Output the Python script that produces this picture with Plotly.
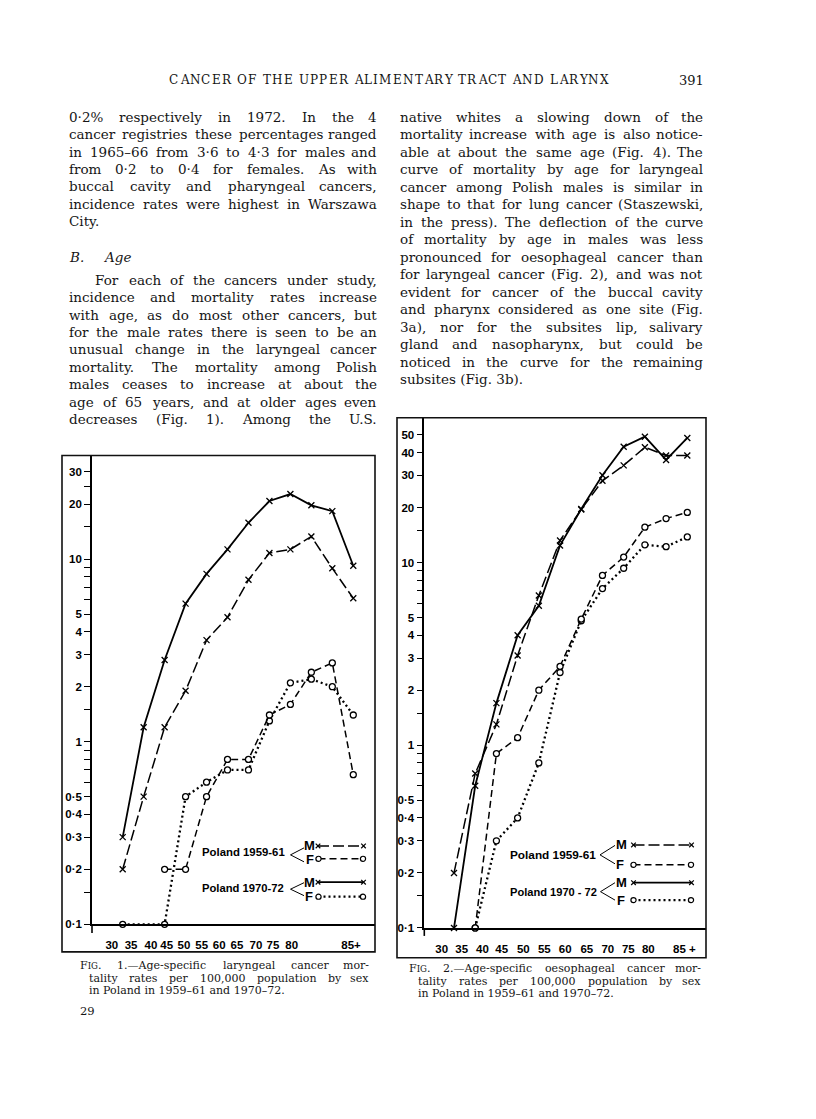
import glob
import struct
import plotly.graph_objects as go

# page geometry: the page is 816x1119; the browser body adds an 8px margin
W, H = 816, 1119
OFF = 8
FW, FH = W - 2 * OFF, H - 2 * OFF
SERIF = "DejaVu Serif"
SANS = "Liberation Sans"
INK = "#151515"

# ------------------------------------------------------------------ data
age_groups = ["30-34", "35-39", "40-44", "45-49", "50-54", "55-59",
              "60-64", "65-69", "70-74", "75-79", "80-84", "85+"]
age_start = [30, 35, 40, 45, 50, 55, 60, 65, 70, 75, 80, 85]

# Fig. 1 - laryngeal cancer mortality per 100,000
lar_m_1959 = [0.2, 0.5, 1.2, 1.9, 3.6, 4.8, 7.7, 10.8, 11.3, 13.3, 8.9, 6.1]
lar_f_1959 = [None, None, 0.2, 0.2, 0.5, 0.8, 0.8, 1.4, 1.6, 2.4, 2.7, 0.66]
lar_m_1970 = [0.3, 1.2, 2.8, 5.7, 8.3, 11.3, 15.8, 20.8, 22.7, 19.7, 18.3, 9.2]
lar_f_1970 = [0.1, None, 0.1, 0.5, 0.6, 0.7, 0.7, 1.3, 2.1, 2.2, 2.0, 1.4]

# Fig. 2 - oesophageal cancer mortality per 100,000
oes_m_1959 = [0.2, 0.7, 1.3, 3.1, 6.6, 13.2, 19.5, 28, 34, 42.7, 38.5, 38.5]
oes_m_1970 = [0.1, 0.6, 1.7, 4.0, 5.8, 12.4, 19.6, 30, 43, 48.8, 36.4, 48]
oes_f_1959 = [None, 0.1, 0.9, 1.1, 2.0, 2.7, 4.9, 8.5, 10.7, 15.6, 17.4, 18.8]
oes_f_1970 = [None, 0.1, 0.3, 0.4, 0.8, 2.5, 4.8, 7.2, 9.3, 12.5, 12.2, 13.8]

x_labels_1 = ["30", "35", "40", "45", "50", "55", "60", "65", "70", "75", "80", "85+"]
x_labels_2 = ["30", "35", "40", "45", "50", "55", "60", "65", "70", "75", "80", "85 +"]

y_vals_1 = [0.1, 0.15, 0.2, 0.3, 0.4, 0.5, 0.6, 0.7, 0.8, 0.9, 1, 1.5, 2, 3, 4, 5,
            6, 7, 8, 9, 10, 15, 20, 25, 30]
y_text_1 = ["0·1", "", "0·2", "0·3", "0·4", "0·5", "", "", "", "", "1", "", "2", "3",
            "4", "5", "", "", "", "", "10", "", "20", "", "30"]
y_vals_2 = [0.1, 0.15, 0.2, 0.3, 0.4, 0.5, 0.6, 0.7, 0.8, 0.9, 1, 1.5, 2, 3, 4, 5,
            6, 7, 8, 9, 10, 15, 20, 30, 40, 50]
y_text_2 = ["0·1", "", "0·2", "0·3", "0·4", "0·5", "", "", "", "", "1", "", "2", "3",
            "4", "5", "", "", "", "", "10", "", "20", "30", "40", "50"]

# label positions along the age axis (the printed labels are not evenly placed)
x_tick_pos_1 = [29.9, 34.5, 39.25, 43.0, 47.1, 51.35, 55.5, 59.75, 64.3, 68.35, 72.8, 86.95]
x_tick_pos_2 = [29.6, 34.3, 39.2, 43.75, 48.85, 53.8, 58.7, 63.8, 68.75, 73.6, 78.3, 86.8]

legend_titles_1 = ["Poland 1959-61", "Poland 1970-72"]
legend_titles_2 = ["Poland 1959-61", "Poland 1970 - 72"]

# ------------------------------------------------------------------ text
HEADER = "CANCER OF THE UPPER ALIMENTARY TRACT AND LARYNX"
PAGE_NO = "391"
LEFT_A = [
    "0·2% respectively in 1972.  In the 4",
    "cancer registries these percentages ranged",
    "in 1965–66 from 3·6 to 4·3 for males and",
    "from 0·2 to 0·4 for females.  As with",
    "buccal cavity and pharyngeal cancers,",
    "incidence rates were highest in Warszawa",
    "City.",
]
LEFT_B = [
    "For each of the cancers under study,",
    "incidence and mortality rates increase",
    "with age, as do most other cancers, but",
    "for the male rates there is seen to be an",
    "unusual change in the laryngeal cancer",
    "mortality.  The mortality among Polish",
    "males ceases to increase at about the",
    "age of 65 years, and at older ages even",
    "decreases (Fig. 1).  Among the U.S.",
]
RIGHT = [
    "native whites a slowing down of the",
    "mortality increase with age is also notice-",
    "able at about the same age (Fig. 4).  The",
    "curve of mortality by age for laryngeal",
    "cancer among Polish males is similar in",
    "shape to that for lung cancer (Staszewski,",
    "in the press).  The deflection of the curve",
    "of mortality by age in males was less",
    "pronounced for oesophageal cancer than",
    "for laryngeal cancer (Fig. 2), and was not",
    "evident for cancer of the buccal cavity",
    "and pharynx considered as one site (Fig.",
    "3a), nor for the subsites lip, salivary",
    "gland and nasopharynx, but could be",
    "noticed in the curve for the remaining",
    "subsites (Fig. 3b).",
]
CAP1 = ["FIG. 1.—Age-specific laryngeal cancer mor-",
        "tality rates per 100,000 population by sex",
        "in Poland in 1959–61 and 1970–72."]
CAP2 = ["FIG. 2.—Age-specific oesophageal cancer mor-",
        "tality rates per 100,000 population by sex",
        "in Poland in 1959–61 and 1970–72."]


# ------------------------------------------------------------------ font metrics
def load_metrics(fname):
    paths = glob.glob("/usr/share/fonts/**/" + fname, recursive=True)
    paths += glob.glob("/usr/local/share/fonts/**/" + fname, recursive=True)
    if not paths:
        return None
    try:
        data = open(paths[0], "rb").read()
        num = struct.unpack(">H", data[4:6])[0]
        tb = {}
        for i in range(num):
            tag, _, off, _ln = struct.unpack(">4sIII", data[12 + 16 * i:28 + 16 * i])
            tb[tag] = off
        upem = struct.unpack(">H", data[tb[b"head"] + 18:tb[b"head"] + 20])[0]
        nhm = struct.unpack(">H", data[tb[b"hhea"] + 34:tb[b"hhea"] + 36])[0]
        ho = tb[b"hmtx"]
        adv = [struct.unpack(">H", data[ho + 4 * i:ho + 4 * i + 2])[0] for i in range(nhm)]
        co = tb[b"cmap"]
        n = struct.unpack(">H", data[co + 2:co + 4])[0]
        sub = None
        for i in range(n):
            pid, eid, off = struct.unpack(">HHI", data[co + 4 + 8 * i:co + 12 + 8 * i])
            fmt = struct.unpack(">H", data[co + off:co + off + 2])[0]
            if fmt == 4 and (pid, eid) in ((3, 1), (0, 3), (0, 4), (0, 1), (0, 0)):
                sub = co + off
                break
        if sub is None:
            return None
        segx2 = struct.unpack(">H", data[sub + 6:sub + 8])[0]
        seg = segx2 // 2
        ends = struct.unpack(">%dH" % seg, data[sub + 14:sub + 14 + segx2])
        starts = struct.unpack(">%dH" % seg, data[sub + 16 + segx2:sub + 16 + 2 * segx2])
        deltas = struct.unpack(">%dh" % seg, data[sub + 16 + 2 * segx2:sub + 16 + 3 * segx2])
        rpos = sub + 16 + 3 * segx2
        rofs = struct.unpack(">%dH" % seg, data[rpos:rpos + segx2])

        def gid(ch):
            c = ord(ch)
            for k in range(seg):
                if ends[k] >= c:
                    if starts[k] > c:
                        return 0
                    if rofs[k] == 0:
                        return (c + deltas[k]) & 0xFFFF
                    addr = rpos + 2 * k + rofs[k] + 2 * (c - starts[k])
                    g = struct.unpack(">H", data[addr:addr + 2])[0]
                    return (g + deltas[k]) & 0xFFFF if g else 0
            return 0

        cache = {}

        def width(s):
            tot = 0.0
            for ch in s:
                if ch not in cache:
                    g = gid(ch)
                    cache[ch] = adv[min(g, nhm - 1)] / upem
                tot += cache[ch]
            return tot
        return width
    except Exception:
        return None


_serif = load_metrics("DejaVuSerif.ttf")
_sansb = load_metrics("LiberationSans-Bold.ttf")


def tw(s, size):
    if _serif is None:
        return len(s) * 0.57 * size
    return _serif(s) * size


def fit_bold(s, width, default=11.3):
    if _sansb is None:
        return default
    return width / _sansb(s)


def PX(x):
    return (x - OFF) / FW


def PY(y):
    return 1 - (y - OFF) / FH


# ------------------------------------------------------------------ figure
fig = go.Figure()
xmid = [a + 2.5 for a in age_start]

BLACK = "black"
STY = {
    "m59": dict(line=dict(color=BLACK, width=1.5, dash="11px,4px"),
                marker=dict(symbol="x-thin", size=6, color=BLACK, line=dict(width=1.3, color=BLACK))),
    "f59": dict(line=dict(color=BLACK, width=1.5, dash="7px,4px"),
                marker=dict(symbol="circle", size=6, color="white", line=dict(width=1.3, color=BLACK))),
    "m70": dict(line=dict(color=BLACK, width=1.8),
                marker=dict(symbol="x-thin", size=6, color=BLACK, line=dict(width=1.3, color=BLACK))),
    "f70": dict(line=dict(color=BLACK, width=2.3, dash="2px,3px"),
                marker=dict(symbol="circle", size=6, color="white", line=dict(width=1.3, color=BLACK))),
}


def add_series(vals, style, xa, ya, name):
    st = STY[style]
    fig.add_trace(go.Scatter(x=xmid, y=vals, mode="lines+markers", name=name,
                             line=st["line"], marker=st["marker"], connectgaps=True,
                             cliponaxis=False, xaxis=xa, yaxis=ya, showlegend=False,
                             hoverinfo="skip"))


add_series(lar_f_1970, "f70", "x", "y", "F 1970-72")
add_series(lar_f_1959, "f59", "x", "y", "F 1959-61")
add_series(lar_m_1959, "m59", "x", "y", "M 1959-61")
add_series(lar_m_1970, "m70", "x", "y", "M 1970-72")
add_series(oes_f_1970, "f70", "x2", "y2", "F 1970-72")
add_series(oes_f_1959, "f59", "x2", "y2", "F 1959-61")
add_series(oes_m_1959, "m59", "x2", "y2", "M 1959-61")
add_series(oes_m_1970, "m70", "x2", "y2", "M 1970-72")

TICKFONT = dict(family=SANS, size=11.5, color=BLACK, weight="bold")


def bold(lst):
    return ["<b>%s</b>" % t if t else "" for t in lst]


def xaxis_cfg(left, right, rng, pos, labels, anchor):
    return dict(domain=[PX(left), PX(right)], range=rng, showline=True, linecolor=BLACK,
                linewidth=1.6, ticks="", tickvals=pos, ticktext=bold(labels), tickfont=TICKFONT,
                ticklabelstandoff=9, showgrid=False, zeroline=False, anchor=anchor,
                fixedrange=True)


def yaxis_cfg(top, bottom, rng, vals, texts, anchor):
    return dict(type="log", domain=[PY(bottom), PY(top)], range=rng, showline=True,
                linecolor=BLACK, linewidth=1.6, ticks="outside", ticklen=6, tickwidth=1.3,
                tickcolor=BLACK, tickvals=vals, ticktext=bold(texts), tickfont=TICKFONT,
                showgrid=False, zeroline=False, anchor=anchor, fixedrange=True)


fig.update_layout(
    width=FW, height=FH, margin=dict(l=0, r=0, t=0, b=0),
    paper_bgcolor="white", plot_bgcolor="white", showlegend=False,
    xaxis=xaxis_cfg(92, 375, [25.18, 92.68], x_tick_pos_1, x_labels_1, "y"),
    yaxis=yaxis_cfg(458, 929.3, [-1, 1.567], y_vals_1, y_text_1, "x"),
    xaxis2=xaxis_cfg(424.3, 705.5, [25.5, 91.79], x_tick_pos_2, x_labels_2, "y2"),
    yaxis2=yaxis_cfg(420, 933, [-1, 1.792], y_vals_2, y_text_2, "x2"),
)

shapes = []


def pline(x0, y0, x1, y1, width=1.3, dash=None, color=BLACK):
    ln = dict(color=color, width=width)
    if dash:
        ln["dash"] = dash
    shapes.append(dict(type="line", xref="paper", yref="paper", x0=PX(x0), y0=PY(y0),
                       x1=PX(x1), y1=PY(y1), line=ln, layer="above"))


def prect(x0, y0, x1, y1, width=1.6):
    shapes.append(dict(type="rect", xref="paper", yref="paper", x0=PX(x0), y0=PY(y1),
                       x1=PX(x1), y1=PY(y0), line=dict(color="#111", width=width),
                       fillcolor="rgba(0,0,0,0)", layer="above"))


def pcircle(cx, cy, r=2.6):
    shapes.append(dict(type="circle", xref="paper", yref="paper", x0=PX(cx - r),
                       y0=PY(cy + r), x1=PX(cx + r), y1=PY(cy - r),
                       line=dict(color=BLACK, width=1.2), fillcolor="white", layer="above"))


def pcross(cx, cy, r=2.3):
    pline(cx - r, cy - r, cx + r, cy + r, width=1.2)
    pline(cx - r, cy + r, cx + r, cy - r, width=1.2)


# frames and axis stubs
prect(62, 458, 375, 957)
prect(397, 420, 706, 963)
pline(92, 929.3, 92, 938, width=1.6)
pline(424.3, 933, 424.3, 941, width=1.6)

annotations = []


def text(x, y, s, size, family=SERIF, anchor="left", color=INK, weight=None, vanchor="middle"):
    f = dict(family=family, size=size, color=color)
    if weight:
        f["weight"] = weight
    annotations.append(dict(x=PX(x), y=PY(y), xref="paper", yref="paper", text=s,
                            showarrow=False, xanchor=anchor, yanchor=vanchor, font=f,
                            borderpad=0))


# legends
def legend_entry(title, title_left, title_right, ty, vertex, top_end, bot_end, m_xy, f_xy,
                 m_seg, f_seg, m_style, f_style):
    tsize = fit_bold(title, title_right - title_left)
    text(title_right, ty, "<b>%s</b>" % title, tsize, family=SANS, anchor="right",
         color=BLACK, weight="bold")
    pline(top_end[0], top_end[1], vertex[0], vertex[1], width=1.0)
    pline(vertex[0], vertex[1], bot_end[0], bot_end[1], width=1.0)
    text(m_xy[0], m_xy[1], "<b>M</b>", 13, family=SANS, anchor="center", color=BLACK, weight="bold")
    text(f_xy[0], f_xy[1], "<b>F</b>", 13, family=SANS, anchor="center", color=BLACK, weight="bold")
    for (x0, x1, yy), st in ((m_seg, m_style), (f_seg, f_style)):
        ln = STY[st]["line"]
        pline(x0, yy, x1, yy, width=ln["width"], dash=ln.get("dash"))
        if st.startswith("m"):
            pcross(x0, yy)
            pcross(x1, yy)
        else:
            pcircle(x0, yy)
            pcircle(x1, yy)


legend_entry(legend_titles_1[0], 202.7, 285.5, 857, (290.5, 859.5), (304, 852.5), (304, 866.5),
             (309.5, 850.5), (309.5, 864), (318, 363.5, 850.5), (318.5, 363, 863.5), "m59", "f59")
legend_entry(legend_titles_1[1], 202.7, 284.5, 892.5, (290.5, 894), (304, 887.5), (304, 900.5),
             (309, 887), (309, 901.5), (318, 363.5, 887), (318.5, 363, 901.5), "m70", "f70")
legend_entry(legend_titles_2[0], 511, 597, 859.5, (600, 859.5), (615, 850), (615, 868.5),
             (621.5, 849.5), (620, 869.5), (633.5, 691.5, 849.5), (633.5, 691, 869.5), "m59", "f59")
legend_entry(legend_titles_2[1], 511, 598, 896.5, (600.5, 896.5), (615, 887.5), (615, 905),
             (621.5, 887.5), (620.5, 905), (633.5, 691.5, 887.5), (633.5, 691, 905), "m70", "f70")


# ------------------------------------------------------------------ page text
def words_of(line):
    return line.split()


def justify_line(line, x0, x1, y, size, justified=True, dy=-1.0):
    ws = words_of(line)
    if not justified or len(ws) < 2:
        text(x0, y + dy, " ".join(ws), size)
        return
    widths = [tw(w, size) for w in ws]
    gap = (x1 - x0 - sum(widths)) / (len(ws) - 1)
    x = x0
    for i, (w, wd) in enumerate(zip(ws, widths)):
        if i == len(ws) - 1:
            text(x1, y + dy, w, size, anchor="right")
        else:
            text(x, y + dy, w, size)
        x += wd + gap


def natural(line, size=1.0):
    ws = words_of(line)
    return sum(tw(w, size) for w in ws) + (len(ws) - 1) * tw(" ", size)


LX0, LX1 = 67.7, 377.5
RX0, RX1 = 398.5, 703.5
cands = [(LX1 - LX0) / natural(l) for l in LEFT_A[:-1]]
cands += [(LX1 - LX0 - 26.6) / natural(LEFT_B[0])]
cands += [(LX1 - LX0) / natural(l) for l in LEFT_B[1:]]
cands += [(RX1 - RX0) / natural(l) for l in RIGHT[:-1]]
BODY = max(11.5, min(13.5, min(cands)))

for i, line in enumerate(LEFT_A):
    justify_line(line, LX0, LX1, 118.3 + 17.5 * i, BODY, justified=(i < len(LEFT_A) - 1))
text(LX0, 258.0, "<i>B.</i>", BODY)
text(101.7, 258.0, "<i>Age</i>", BODY)
for i, line in enumerate(LEFT_B):
    x0 = LX0 + 26.6 if i == 0 else LX0
    justify_line(line, x0, LX1, 282.3 + 17.5 * i, BODY)
for i, line in enumerate(RIGHT):
    justify_line(line, RX0, RX1, 118.3 + 17.6 * i, BODY, justified=(i < len(RIGHT) - 1))

# running header, letter-spaced capitals
HSIZE = 12.0
hx0, hx1, hy = 168.3, 607.7, 80.5
chars = list(HEADER)
cw = [tw(c, HSIZE) for c in chars]
ls = (hx1 - hx0 - sum(cw)) / (len(chars) - 1)
hx = hx0
for c, w in zip(chars, cw):
    if c != " ":
        text(hx, hy, c, HSIZE)
    hx += w + ls
text(705, hy, PAGE_NO, 13, anchor="right")


# captions
def caption(lines, x0, indent, x1, ys):
    sc = 0.78

    def first_word_width(size):
        return tw("F", size) + tw("IG", size * sc) + tw(".", size)
    nat1 = first_word_width(1) + natural(lines[0][5:]) + tw(" ", 1)
    s1 = (x1 - x0) / nat1
    s2 = (x1 - indent) / natural(lines[1])
    size = min(11.0, 0.5 * (s1 + s2))
    ws = words_of(lines[0])
    widths = [first_word_width(size)] + [tw(w, size) for w in ws[1:]]
    gap = (x1 - x0 - sum(widths)) / (len(ws) - 1)
    x = x0
    for i, (w, wd) in enumerate(zip(ws, widths)):
        if i == 0:
            s = "F<span style='font-size:%.1fpx'>IG</span>." % (size * sc)
            text(x, ys[0], s, size)
        elif i == len(ws) - 1:
            text(x1, ys[0], w, size, anchor="right")
        else:
            text(x, ys[0], w, size)
        x += wd + gap
    justify_line(lines[1], indent, x1, ys[1], size, dy=0)
    justify_line(lines[2], indent, x1, ys[2], size, justified=False, dy=0)


caption(CAP1, 79, 88, 370, [971, 983.5, 996])
caption(CAP2, 408, 417, 702, [974, 986.5, 999])
text(79, 1016, "29", 11.5)

fig.update_layout(shapes=shapes, annotations=annotations)
fig.write_html("out.html")
